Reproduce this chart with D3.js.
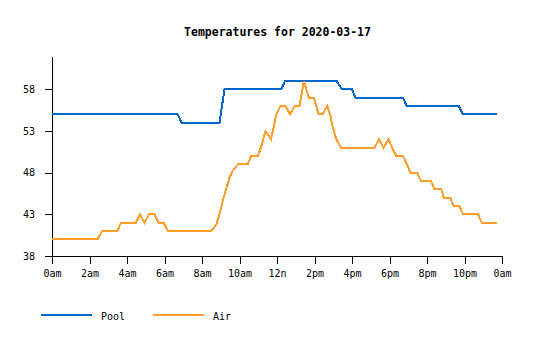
<!DOCTYPE html>
<html>
<head>
<meta charset="utf-8">
<script src="https://cdn.jsdelivr.net/npm/d3@7/dist/d3.min.js"></script>
<style>
  html, body { margin: 0; padding: 0; background: #fff; }
  svg { display: block; }
  text { font-family: "DejaVu Sans Mono", monospace; fill: #000; }
</style>
</head>
<body>
<svg id="chart" width="535" height="340"></svg>
<script>
// ---- data ----
const chartTitle = "Temperatures for 2020-03-17";
const seriesNames = ["Pool", "Air"];
const seriesColors = ["#0066cc", "#ff9f29"];

const poolTimes  = ["00:00","06:42","06:55","08:56","09:12","12:13","12:26","15:11","15:28","16:00","16:11","18:43","18:55","21:42","21:55","23:45"];
const poolValues = [55, 55, 54, 54, 58, 58, 59, 59, 58, 58, 57, 57, 56, 56, 55, 55];

const airTimes  = ["00:00","02:26","02:40","03:29","03:41","04:29","04:42","04:56","05:10","05:28","05:41","05:57","06:11","08:29","08:45","08:56","09:07","09:28","09:38","09:55","10:26","10:37","10:59","11:10","11:23","11:41","11:58","12:11","12:27","12:42","12:56","13:12","13:26","13:42","13:58","14:13","14:26","14:41","14:51","14:59","15:10","15:25","17:12","17:26","17:41","17:57","18:11","18:22","18:43","18:56","19:07","19:28","19:41","20:13","20:24","20:46","20:54","21:14","21:25","21:44","21:55","22:43","22:55","23:45"];
const airValues = [40, 40, 41, 41, 42, 42, 43, 42, 43, 43, 42, 42, 41, 41, 41.7, 43, 44.7, 47.4, 48.2, 49, 49, 50, 50, 51.2, 53, 52, 55, 56, 56, 55, 56, 56, 59, 57, 57, 55, 55, 56, 54.8, 53.4, 52, 51, 51, 52, 51, 52, 50.8, 50, 50, 49, 48, 48, 47, 47, 46, 46, 45, 45, 44, 44, 43, 43, 42, 42];

const xTickLabels = ["0am","2am","4am","6am","8am","10am","12n","2pm","4pm","6pm","8pm","10pm","0am"];
const yTicks = [38, 43, 48, 53, 58];
const yDomain = [38, 62];
const day = "2020-03-17";

// ---- build ----
const parse = d3.timeParse("%Y-%m-%d %H:%M");
const t0 = parse(day + " 00:00");
const t1 = d3.timeDay.offset(t0, 1);

function toPoints(times, values) {
  return times.map((t, i) => ({ t: parse(day + " " + t), v: values[i] }));
}
const series = [toPoints(poolTimes, poolValues), toPoints(airTimes, airValues)];

const svg = d3.select("#chart");
const x = d3.scaleTime().domain([t0, t1]).range([52, 502]);
const y = d3.scaleLinear().domain(yDomain).range([256, 56]);

// title
svg.append("text")
  .attr("x", 277.5).attr("y", 36)
  .attr("text-anchor", "middle")
  .style("font-size", "11.5px").style("font-weight", "bold")
  .text(chartTitle);

// axes
const xTicks = d3.timeHour.range(t0, d3.timeHour.offset(t1, 1), 2);
const xAxis = d3.axisBottom(x)
  .tickValues(xTicks)
  .tickFormat((d, i) => xTickLabels[i])
  .tickSize(8).tickSizeOuter(0).tickPadding(6);
const gx = svg.append("g").attr("transform", "translate(0,256)").call(xAxis);

const yAxis = d3.axisLeft(y)
  .tickValues(yTicks)
  .tickSize(7).tickSizeOuter(0).tickPadding(10);
const gy = svg.append("g").attr("transform", "translate(52,0)").call(yAxis);

[gx, gy].forEach(g => {
  g.selectAll("text").style("font-size", "10px").style("font-family", "'DejaVu Sans Mono', monospace");
  g.selectAll("path, line").attr("stroke", "#000").attr("shape-rendering", "crispEdges");
});

// lines
const line = d3.line().x(d => x(d.t)).y(d => y(d.v));
series.forEach((s, i) => {
  svg.append("path")
    .datum(s)
    .attr("fill", "none")
    .attr("stroke", seriesColors[i])
    .attr("stroke-width", 2)
    .attr("shape-rendering", "crispEdges")
    .attr("d", line);
});

// legend
const legendX = [41, 153];
seriesNames.forEach((name, i) => {
  const g = svg.append("g").attr("transform", `translate(${legendX[i]},314.5)`);
  g.append("line").attr("x1", 0).attr("x2", 51).attr("y1", 0).attr("y2", 0)
    .attr("stroke", seriesColors[i]).attr("stroke-width", 2).attr("shape-rendering", "crispEdges");
  g.append("text").attr("x", 60).attr("y", 5).style("font-size", "10px").text(name);
});
</script>
</body>
</html>
